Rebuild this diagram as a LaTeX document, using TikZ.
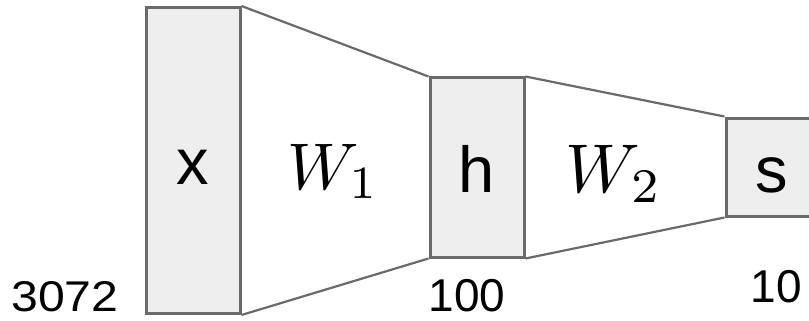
\documentclass[tikz,border=0pt]{standalone}
\usepackage{fontspec}
\setsansfont{Liberation Sans}
\definecolor{edgegray}{HTML}{6A6A6A}
\definecolor{boxfill}{HTML}{EEEEEE}
\tikzset{
  layerbox/.style={draw=edgegray, line width=3pt, fill=boxfill, inner sep=0pt},
  link/.style={draw=edgegray, line width=2.2pt},
  letter/.style={font=\sffamily\fontsize{65}{70}\selectfont, inner sep=0pt, anchor=base},
  sizelbl/.style={font=\sffamily\fontsize{46}{50}\selectfont, inner sep=0pt, text depth=0pt, anchor=base},
  wlbl/.style={inner sep=0pt, anchor=base}
}
\begin{document}
\begin{tikzpicture}[x=1pt, y=-1pt]
\useasboundingbox (0,0) rectangle (809,321);
\clip (0,0) rectangle (809,321);
% boxes
\node[layerbox, minimum width=94pt, minimum height=306pt] (xb) at (193,160.5) {};
\node[layerbox, minimum width=94pt, minimum height=179pt] (hb) at (477,167.5) {};
\node[layerbox, minimum width=94pt, minimum height=98pt] (sb) at (773,167) {};
% connectors
\draw[link] (xb.north east) -- (hb.north west);
\draw[link] (xb.south east) -- (hb.south west);
\draw[link] (hb.north east) -- (sb.north west);
\draw[link] (hb.south east) -- (sb.south west);
% letters
\node[letter] (xt) at (193,184) {x};
\node[letter] (ht) at (477,192) {h};
\node[letter] (st) at (772,192) {s};
% weights
\node[wlbl] (w1) at (333,189) {\scalebox{6.6}{$W_1$}};
\node[wlbl] (w2) at (614,192) {\scalebox{6.9}{$W_2$}};
% sizes
\node[sizelbl, font=\sffamily\fontsize{43}{48}\selectfont] (n1) at (65,311) {\scalebox{1.12}[1]{3072}};
\node[sizelbl] (n2) at (467,311) {100};
\node[sizelbl] (n3) at (776,302) {10};
\end{tikzpicture}
\end{document}
